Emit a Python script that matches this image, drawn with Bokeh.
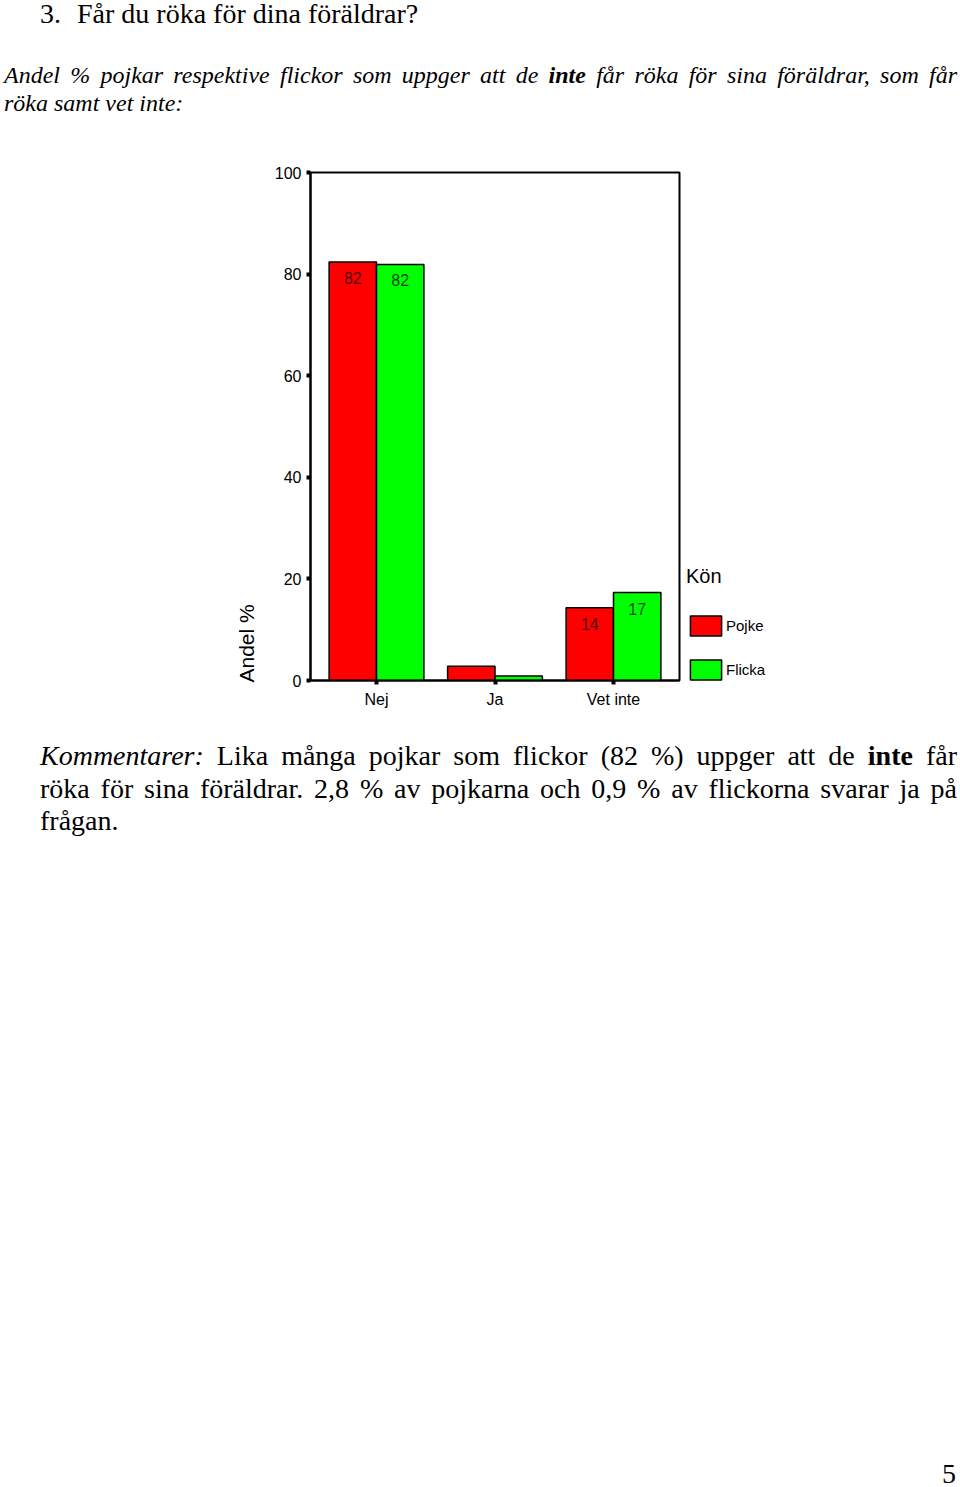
from bokeh.plotting import figure
from bokeh.models import Div, Legend, LegendItem, FactorRange, ColumnDataSource, Spacer, Title
from bokeh.layouts import column
from bokeh.transform import dodge
from bokeh.core.properties import value
from bokeh.embed import file_html
from bokeh.resources import INLINE

# data
svar = ["Nej", "Ja", "Vet inte"]
pojke = [82.4, 2.8, 14.3]
flicka = [81.9, 0.9, 17.3]
y_ticks = [0, 20, 40, 60, 80, 100]

# only the larger bars carry a value label
pojke_txt = [f"{v:.0f}" if v >= 5 else "" for v in pojke]
flicka_txt = [f"{v:.0f}" if v >= 5 else "" for v in flicka]

source = ColumnDataSource(data=dict(svar=svar, pojke=pojke, flicka=flicka,
                                    pojke_txt=pojke_txt, flicka_txt=flicka_txt))

SERIF = "'Liberation Serif'"
SANS = "Liberation Sans"

# heading texts
title = Div(width=944, height=48, margin=0, text=
    '<div style="position:relative; top:-1px; left:40px; font-family:' + SERIF + '; '
    'font-size:28px; line-height:30px; white-space:nowrap; color:black;">'
    '<span style="display:inline-block; width:37px;">3.</span>Får du röka för dina föräldrar?</div>')

subtitle = Div(width=944, height=100, margin=0, text=
    '<div style="position:relative; top:13px; left:4px; width:953px; font-family:' + SERIF + '; '
    'font-style:italic; font-size:24px; line-height:28px; color:black;">'
    '<div style="text-align:justify; text-align-last:justify; white-space:nowrap;">'
    'Andel % pojkar respektive flickor som uppger att de <b>inte</b> får röka för sina föräldrar, som får</div>'
    '<div>röka samt vet inte:</div></div>')

# bar chart
p = figure(x_range=FactorRange(factors=svar, range_padding=0.038), y_range=(0, 100),
           frame_width=369, frame_height=508,
           min_border_left=310, min_border_right=110, min_border_top=24, min_border_bottom=40,
           output_backend="svg", toolbar_location=None, tools="")

r1 = p.vbar(x=dodge("svar", -0.2, range=p.x_range), top="pojke", width=0.4, source=source,
            fill_color="#ff0000", line_color="black", line_width=1.5)
r2 = p.vbar(x=dodge("svar", 0.2, range=p.x_range), top="flicka", width=0.4, source=source,
            fill_color="#00ff00", line_color="black", line_width=1.5)

p.text(x=dodge("svar", -0.2, range=p.x_range), y="pojke", text="pojke_txt", source=source,
       text_align="center", text_baseline="middle", y_offset=16,
       text_font=value(SANS), text_font_size="16px", text_color="black", text_alpha=0.75)
p.text(x=dodge("svar", 0.2, range=p.x_range), y="flicka", text="flicka_txt", source=source,
       text_align="center", text_baseline="middle", y_offset=16,
       text_font=value(SANS), text_font_size="16px", text_color="black", text_alpha=0.75)

p.xgrid.grid_line_color = None
p.ygrid.grid_line_color = None
p.outline_line_color = "black"
p.outline_line_width = 2

p.yaxis.ticker = y_ticks
p.axis.axis_line_width = 2
p.axis.axis_line_color = "black"
p.axis.major_tick_in = 0
p.axis.major_tick_out = 4
p.axis.major_tick_line_width = 4
p.axis.major_tick_line_color = "black"
p.axis.minor_tick_line_color = None
p.axis.major_label_text_font = SANS
p.axis.major_label_text_font_size = "16px"
p.axis.major_label_text_color = "black"
p.yaxis.major_label_standoff = 5
p.xaxis.major_label_standoff = 6

# y axis title sits low, next to the bottom of the axis
p.add_layout(Title(text="Andel %", align="left", standoff=27, offset=-2,
                   text_font=SANS, text_font_size="21px", text_font_style="normal",
                   text_color="black"), "left")

legend = Legend(items=[LegendItem(label="Pojke", renderers=[r1]),
                       LegendItem(label="Flicka", renderers=[r2])],
                location=(7, -2), title="Kön")
legend.title_text_font = SANS
legend.title_text_font_size = "20px"
legend.title_text_font_style = "normal"
legend.title_text_color = "black"
legend.title_standoff = 25
legend.label_text_font = SANS
legend.label_text_font_size = "15px"
legend.label_text_color = "black"
legend.glyph_width = 39
legend.glyph_height = 25
legend.label_standoff = 1
legend.spacing = 19
legend.padding = 0
legend.margin = 0
legend.border_line_color = None
legend.background_fill_alpha = 0
p.add_layout(legend, "right")

# comment under the chart
comment = Div(width=944, height=140, margin=0, text=
    '<div style="position:relative; top:20px; left:40px; width:917px; font-family:' + SERIF + '; '
    'font-size:28px; line-height:32.5px; color:black;">'
    '<div style="text-align:justify; text-align-last:justify; white-space:nowrap;">'
    '<i>Kommentarer:</i> Lika många pojkar som flickor (82 %) uppger att de <b>inte</b> får</div>'
    '<div style="text-align:justify; text-align-last:justify; white-space:nowrap;">'
    'röka för sina föräldrar. 2,8 % av pojkarna och 0,9 % av flickorna svarar ja på</div>'
    '<div>frågan.</div></div>')

gap = Spacer(width=944, height=600)

page_no = Div(width=944, height=27, margin=0, text=
    '<div style="width:956px; text-align:right; font-family:' + SERIF + '; '
    'font-size:28px; line-height:27px; color:black;">5</div>')

layout = column(title, subtitle, p, comment, gap, page_no, spacing=0)

open("out.html", "w").write(file_html(layout, INLINE))
